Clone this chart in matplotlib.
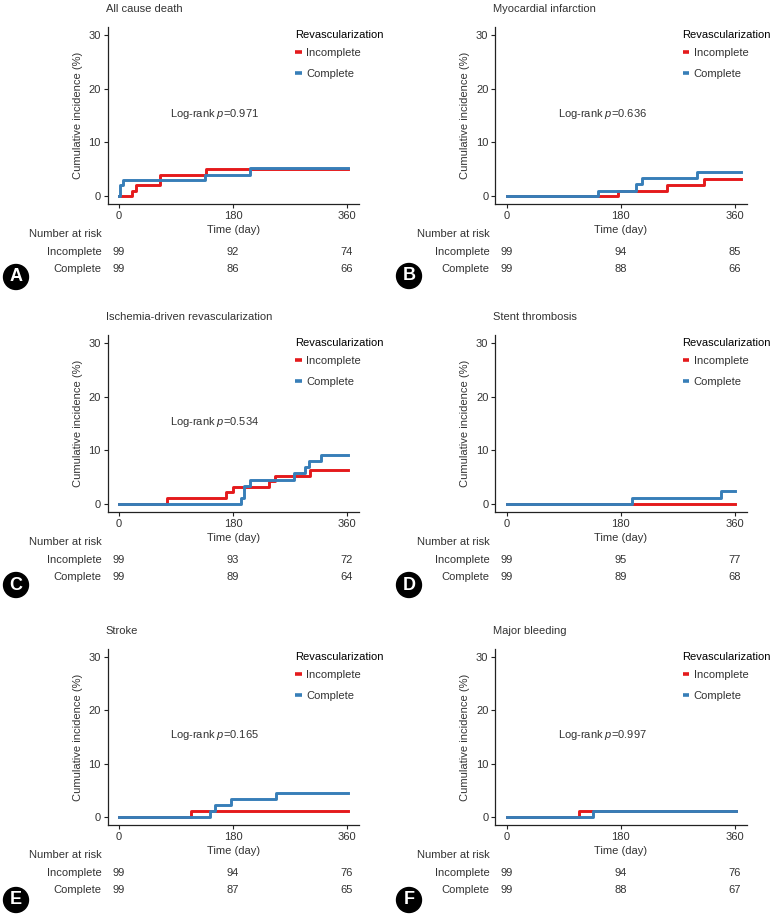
import matplotlib
matplotlib.use('Agg')
from matplotlib import pyplot as plt
from matplotlib.lines import Line2D
from matplotlib.transforms import ScaledTranslation

plt.rcParams['font.family'] = ['Liberation Sans', 'DejaVu Sans']
plt.rcParams['mathtext.fontset'] = 'custom'
plt.rcParams['mathtext.it'] = 'Liberation Sans:italic'
plt.rcParams['mathtext.rm'] = 'Liberation Sans'

RED = '#E41A1C'
BLUE = '#377EB8'
TXT = '#333333'
FS = 8

titles = ['All cause death', 'Myocardial infarction', 'Ischemia-driven revascularization',
          'Stent thrombosis', 'Stroke', 'Major bleeding']
letters = ['A', 'B', 'C', 'D', 'E', 'F']
pvals = ['0.971', '0.636', '0.534', None, '0.165', '0.997']

# step curves (day, cumulative incidence %)
inc_t = [[0, 20, 26, 65, 138, 361],
         [0, 176, 253, 311, 370],
         [0, 76, 169, 180, 237, 246, 302, 361],
         [0, 360],
         [0, 114, 361],
         [0, 114, 363]]
inc_y = [[0, 1.0, 2.0, 4.0, 5.05, 5.05],
         [0, 1.0, 2.1, 3.2, 3.2],
         [0, 1.1, 2.2, 3.2, 4.3, 5.3, 6.4, 6.4],
         [0, 0],
         [0, 1.1, 1.1],
         [0, 1.1, 1.1]]
com_t = [[0, 1, 6, 135, 207, 361],
         [0, 145, 204, 214, 300, 370],
         [0, 192, 198, 207, 276, 293, 300, 319, 361],
         [0, 198, 339, 360],
         [0, 144, 152, 177, 248, 361],
         [0, 137, 363]]
com_y = [[0, 2.0, 3.0, 4.0, 5.2, 5.2],
         [0, 1.0, 2.2, 3.3, 4.5, 4.5],
         [0, 1.1, 3.4, 4.5, 5.7, 6.9, 8.0, 9.2, 9.2],
         [0, 1.1, 2.4, 2.4],
         [0, 1.1, 2.2, 3.3, 4.5, 4.5],
         [0, 1.05, 1.05]]

risk_days = [0, 180, 360]
risk_inc = [[99, 92, 74], [99, 94, 85], [99, 93, 72], [99, 95, 77], [99, 94, 76], [99, 94, 76]]
risk_com = [[99, 86, 66], [99, 88, 66], [99, 89, 64], [99, 89, 68], [99, 87, 65], [99, 88, 67]]

W, H = 774, 919
fig = plt.figure(figsize=(W / 100, H / 100), dpi=100)

lefts = [107.7, 495.3]
tops = [27, 335, 649]
bottoms = [204, 512, 825]
ax_w = 251.3
letter_xy = [(16, 277), (409, 276), (16, 585), (409, 585), (16, 900), (409, 900)]

for i in range(6):
    row, col = i // 2, i % 2
    l, t, b = lefts[col], tops[row], bottoms[row]
    ax_h = b - t
    ax = fig.add_axes([l / W, 1 - b / H, ax_w / W, ax_h / H])

    ax.step(inc_t[i], inc_y[i], where='post', color=RED, lw=2.1)
    ax.step(com_t[i], com_y[i], where='post', color=BLUE, lw=2.1)

    ax.set_xlim(-18, 379)
    ax.set_ylim(-1.5, 31.5)
    ax.set_xticks([0, 180, 360])
    ax.set_yticks([0, 10, 20, 30])
    for s in ['top', 'right']:
        ax.spines[s].set_visible(False)
    for s in ['left', 'bottom']:
        ax.spines[s].set_linewidth(0.9)
        ax.spines[s].set_color('#222222')
    ax.tick_params(labelsize=FS, colors='#222222', labelcolor=TXT, length=3, width=0.8, pad=2)

    ax.set_ylabel('Cumulative incidence (%)', fontsize=FS, color=TXT)
    ax.yaxis.set_label_coords(-25 / ax_w, 0.5)
    ax.set_xlabel('Time (day)', fontsize=FS, color=TXT)
    ax.xaxis.set_label_coords(0.5, -21 / ax_h)

    ax.text(-2 / ax_w, 1 + 18 / ax_h, titles[i], transform=ax.transAxes,
            fontsize=FS, color=TXT, ha='left', va='center')

    if pvals[i] is not None:
        ax.text(81, 15.3, r'Log-rank $p$=' + pvals[i], fontsize=FS, color=TXT,
                ha='left', va='center')

    handles = [Line2D([], [], color=RED, lw=2.6, solid_capstyle='butt'),
               Line2D([], [], color=BLUE, lw=2.6, solid_capstyle='butt')]
    leg = ax.legend(handles, ['Incomplete', 'Complete'], title='Revascularization',
                    loc='upper left', bbox_to_anchor=(0.745, 1 - 3 / ax_h), frameon=False,
                    fontsize=FS, title_fontsize=FS, handlelength=0.6, handletextpad=0.4,
                    labelspacing=0.95, borderpad=0, borderaxespad=0, alignment='left',
                    labelcolor=TXT)
    leg._legend_box.sep = 6

    # number at risk table below the axis
    base = ax.get_xaxis_transform()

    def off(px):
        return base + ScaledTranslation(0, -px / 100, fig.dpi_scale_trans)
    lab_tr = ax.transAxes + ScaledTranslation(-6 / 100, 0, fig.dpi_scale_trans)
    for txt, px in [('Number at risk', 30), ('Incomplete', 48), ('Complete', 65)]:
        ax.text(0, 0, txt, transform=lab_tr + ScaledTranslation(0, -px / 100, fig.dpi_scale_trans),
                fontsize=FS, color=TXT, ha='right', va='center')
    for d, n1, n2 in zip(risk_days, risk_inc[i], risk_com[i]):
        ax.text(d, 0, str(n1), transform=off(48), fontsize=FS, color=TXT, ha='center', va='center')
        ax.text(d, 0, str(n2), transform=off(65), fontsize=FS, color=TXT, ha='center', va='center')

    lx, ly = letter_xy[i]
    fig.text(lx / W, 1 - ly / H, letters[i], fontsize=13, fontweight='bold', color='white',
             ha='center', va='center',
             bbox=dict(boxstyle='circle,pad=0.22', fc='black', ec='black'))

fig.savefig('out.png', dpi=100)
